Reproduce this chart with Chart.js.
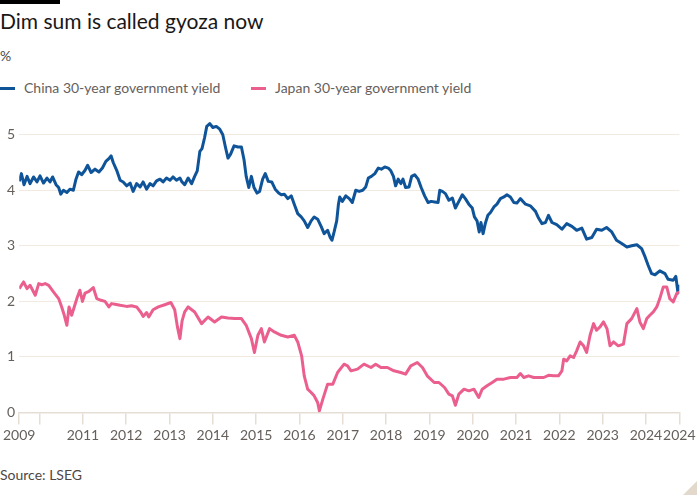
<!DOCTYPE html>
<html>
<head>
<meta charset="utf-8">
<script src="https://cdn.jsdelivr.net/npm/chart.js@4"></script>
<style>
  body { margin: 0; background: #fff; font-family: Lato, "Noto Sans", sans-serif; }
  #wrap { position: relative; width: 700px; height: 500px; overflow: hidden; }
  .bar { position: absolute; left: 0; top: 0; width: 60px; height: 4px; background: #000; }
  .title { position: absolute; left: 0; top: 8px; font-size: 21px; color: #1a1817; white-space: nowrap; }
  .unit { position: absolute; left: 0; top: 47px; font-size: 14px; color: #4d4845; }
  .legend { position: absolute; top: 79px; font-size: 14px; color: #66605c; white-space: nowrap; }
  .legend span.sw { display: inline-block; width: 15px; height: 3px; vertical-align: middle; margin-right: 9px; position: relative; top: -1px; }
  .source { position: absolute; left: 0; top: 466px; font-size: 14px; color: #4d4845; }
  .corner { position: absolute; right: 3px; bottom: 5px; width: 0; height: 0; border-left: 14px solid transparent; border-bottom: 14px solid #e3d8cc; }
  canvas { position: absolute; left: 0; top: 100px; }
</style>
</head>
<body>
<div id="wrap">
  <div class="bar"></div>
  <div class="title">Dim sum is called gyoza now</div>
  <div class="unit">%</div>
  <div class="legend" style="left:0"><span class="sw" style="background:#0f5499"></span>China 30-year government yield</div>
  <div class="legend" style="left:251px"><span class="sw" style="background:#eb5f8f"></span>Japan 30-year government yield</div>
  <canvas id="myChart" width="700" height="350"></canvas>
  <div class="source">Source: LSEG</div>
  <div class="corner"></div>
</div>
<script>
// dates as decimal years
var chinaDates = [2009.53, 2009.58, 2009.64, 2009.71, 2009.78, 2009.86, 2009.94, 2010.01, 2010.09, 2010.17,
  2010.24, 2010.30, 2010.38, 2010.44, 2010.49, 2010.55, 2010.63, 2010.70, 2010.78, 2010.84,
  2010.90, 2010.97, 2011.05, 2011.11, 2011.19, 2011.28, 2011.37, 2011.45, 2011.53, 2011.60,
  2011.65, 2011.70, 2011.78, 2011.86, 2011.93, 2012.01, 2012.09, 2012.16, 2012.24, 2012.32,
  2012.39, 2012.47, 2012.55, 2012.62, 2012.70, 2012.78, 2012.85, 2012.93, 2013.01, 2013.08,
  2013.16, 2013.24, 2013.28, 2013.35, 2013.43, 2013.51, 2013.58, 2013.64, 2013.70, 2013.75,
  2013.81, 2013.86, 2013.93, 2014.00, 2014.08, 2014.16, 2014.23, 2014.29, 2014.35, 2014.41,
  2014.49, 2014.58, 2014.66, 2014.72, 2014.77, 2014.83, 2014.89, 2014.95, 2015.02, 2015.08,
  2015.15, 2015.21, 2015.28, 2015.36, 2015.44, 2015.52, 2015.58, 2015.65, 2015.73, 2015.81,
  2015.88, 2015.96, 2016.04, 2016.11, 2016.19, 2016.27, 2016.34, 2016.42, 2016.50, 2016.57,
  2016.65, 2016.71, 2016.75, 2016.80, 2016.86, 2016.90, 2016.93, 2016.99, 2017.07, 2017.15,
  2017.22, 2017.30, 2017.38, 2017.46, 2017.53, 2017.59, 2017.66, 2017.74, 2017.82, 2017.89,
  2017.97, 2018.05, 2018.11, 2018.17, 2018.22, 2018.28, 2018.34, 2018.39, 2018.45, 2018.53,
  2018.59, 2018.66, 2018.74, 2018.81, 2018.89, 2018.97, 2019.04, 2019.12, 2019.20, 2019.24,
  2019.30, 2019.37, 2019.45, 2019.53, 2019.60, 2019.68, 2019.76, 2019.83, 2019.91, 2019.99,
  2020.04, 2020.10, 2020.15, 2020.19, 2020.24, 2020.29, 2020.35, 2020.41, 2020.49, 2020.56,
  2020.64, 2020.72, 2020.79, 2020.87, 2020.95, 2021.02, 2021.10, 2021.22, 2021.33, 2021.45,
  2021.52, 2021.60, 2021.68, 2021.75, 2021.83, 2021.94, 2022.06, 2022.17, 2022.29, 2022.40,
  2022.52, 2022.63, 2022.75, 2022.86, 2022.98, 2023.09, 2023.21, 2023.32, 2023.44, 2023.56,
  2023.67, 2023.79, 2023.90, 2023.98, 2024.05, 2024.13, 2024.21, 2024.32, 2024.44, 2024.51,
  2024.63, 2024.69, 2024.74, 2024.77];
var chinaYield = [4.16, 4.30, 4.10, 4.25, 4.12, 4.24, 4.15, 4.26, 4.13, 4.22,
  4.15, 4.24, 4.10, 4.05, 3.93, 4.00, 3.96, 4.02, 4.00, 4.20,
  4.33, 4.28, 4.36, 4.45, 4.32, 4.38, 4.33, 4.40, 4.52, 4.57,
  4.62, 4.50, 4.36, 4.18, 4.15, 4.08, 4.13, 3.98, 4.12, 4.06,
  4.15, 4.02, 4.12, 4.08, 4.17, 4.20, 4.15, 4.22, 4.18, 4.24,
  4.18, 4.22, 4.16, 4.10, 4.22, 4.12, 4.25, 4.35, 4.70, 4.75,
  4.95, 5.15, 5.20, 5.13, 5.15, 5.10, 5.00, 4.78, 4.58, 4.65,
  4.80, 4.78, 4.78, 4.55, 4.25, 4.05, 4.25, 4.05, 3.95, 3.98,
  4.20, 4.30, 4.16, 4.15, 4.02, 3.95, 3.92, 3.93, 3.85, 3.90,
  3.75, 3.58, 3.52, 3.45, 3.33, 3.45, 3.52, 3.48, 3.35, 3.22,
  3.28, 3.15, 3.10, 3.25, 3.45, 3.75, 3.88, 3.80, 3.90, 3.85,
  3.78, 4.00, 3.98, 4.00, 4.06, 4.22, 4.25, 4.30, 4.40, 4.38,
  4.42, 4.40, 4.35, 4.25, 4.08, 4.20, 4.12, 4.20, 4.05, 4.06,
  4.25, 4.28, 4.20, 4.05, 3.90, 3.78, 3.80, 3.79, 3.78, 4.00,
  3.98, 3.94, 3.82, 3.86, 3.68, 3.80, 3.92, 3.85, 3.75, 3.68,
  3.52, 3.45, 3.25, 3.42, 3.22, 3.40, 3.55, 3.60, 3.70, 3.75,
  3.85, 3.88, 3.92, 3.88, 3.78, 3.77, 3.85, 3.75, 3.72, 3.62,
  3.50, 3.40, 3.42, 3.55, 3.42, 3.38, 3.30, 3.40, 3.35, 3.28,
  3.32, 3.12, 3.15, 3.30, 3.28, 3.33, 3.25, 3.10, 3.04, 2.98,
  3.00, 3.02, 2.95, 2.80, 2.65, 2.50, 2.48, 2.55, 2.50, 2.40,
  2.38, 2.45, 2.15, 2.30];

var japanDates = [2009.53, 2009.63, 2009.71, 2009.78, 2009.90, 2009.98, 2010.05, 2010.13, 2010.21, 2010.32,
  2010.44, 2010.51, 2010.57, 2010.63, 2010.68, 2010.74, 2010.80, 2010.86, 2010.93, 2010.99,
  2011.05, 2011.14, 2011.24, 2011.32, 2011.42, 2011.51, 2011.60, 2011.66, 2011.74, 2011.86,
  2012.01, 2012.12, 2012.24, 2012.34, 2012.39, 2012.47, 2012.52, 2012.62, 2012.74, 2012.89,
  2013.03, 2013.12, 2013.18, 2013.24, 2013.29, 2013.35, 2013.43, 2013.58, 2013.74, 2013.89,
  2014.04, 2014.20, 2014.35, 2014.50, 2014.66, 2014.77, 2014.89, 2014.96, 2015.04, 2015.12,
  2015.19, 2015.31, 2015.42, 2015.58, 2015.73, 2015.88, 2015.96, 2016.05, 2016.11, 2016.19,
  2016.27, 2016.34, 2016.42, 2016.46, 2016.54, 2016.65, 2016.77, 2016.88, 2017.03, 2017.11,
  2017.19, 2017.34, 2017.49, 2017.65, 2017.76, 2017.88, 2018.03, 2018.18, 2018.34, 2018.45,
  2018.57, 2018.72, 2018.84, 2018.95, 2019.11, 2019.22, 2019.35, 2019.45, 2019.53, 2019.60,
  2019.68, 2019.80, 2019.91, 2020.03, 2020.14, 2020.22, 2020.33, 2020.45, 2020.56, 2020.72,
  2020.87, 2021.02, 2021.10, 2021.18, 2021.29, 2021.41, 2021.52, 2021.64, 2021.75, 2021.87,
  2021.98, 2022.06, 2022.10, 2022.17, 2022.25, 2022.33, 2022.40, 2022.48, 2022.56, 2022.63,
  2022.71, 2022.79, 2022.86, 2022.94, 2023.02, 2023.10, 2023.17, 2023.25, 2023.36, 2023.48,
  2023.56, 2023.67, 2023.79, 2023.86, 2023.94, 2024.02, 2024.09, 2024.17, 2024.25, 2024.32,
  2024.40, 2024.48, 2024.55, 2024.63, 2024.71, 2024.77];
var japanYield = [2.23, 2.35, 2.23, 2.29, 2.11, 2.32, 2.30, 2.32, 2.29, 2.17,
  2.05, 1.90, 1.75, 1.57, 1.90, 1.75, 1.90, 2.05, 2.20, 2.00,
  2.15, 2.18, 2.25, 2.05, 2.02, 2.00, 1.90, 1.96, 1.95, 1.93,
  1.91, 1.92, 1.90, 1.80, 1.73, 1.80, 1.72, 1.85, 1.90, 1.94,
  1.98, 1.85, 1.55, 1.33, 1.65, 1.81, 1.90, 1.81, 1.60, 1.72,
  1.63, 1.72, 1.70, 1.69, 1.69, 1.57, 1.33, 1.08, 1.39, 1.51,
  1.27, 1.51, 1.45, 1.39, 1.36, 1.39, 1.27, 1.02, 0.66, 0.42,
  0.36, 0.30, 0.18, 0.03, 0.24, 0.51, 0.51, 0.72, 0.87, 0.84,
  0.75, 0.78, 0.87, 0.81, 0.87, 0.81, 0.81, 0.75, 0.72, 0.69,
  0.84, 0.90, 0.81, 0.66, 0.54, 0.54, 0.45, 0.33, 0.30, 0.13,
  0.33, 0.42, 0.39, 0.42, 0.27, 0.42, 0.48, 0.54, 0.60, 0.60,
  0.63, 0.63, 0.70, 0.63, 0.66, 0.63, 0.63, 0.63, 0.67, 0.66,
  0.66, 0.75, 0.96, 0.93, 1.02, 0.99, 1.11, 1.27, 1.20, 1.08,
  1.39, 1.60, 1.48, 1.54, 1.63, 1.51, 1.20, 1.27, 1.20, 1.23,
  1.60, 1.69, 1.87, 1.63, 1.51, 1.69, 1.75, 1.81, 1.90, 2.05,
  2.26, 2.26, 2.05, 1.99, 2.14, 2.17];

// axis ticks
var xMin = 2009.53, xMax = 2024.77;
var xTickValues = [xMin, 2010, 2011, 2012, 2013, 2014, 2015, 2016, 2017, 2018, 2019, 2020, 2021, 2022, 2023, 2024, xMax];
var xTickLabels = ['2009', '', '2011', '2012', '2013', '2014', '2015', '2016', '2017', '2018', '2019', '2020', '2021', '2022', '2023', '2024', '2024'];
var yTickValues = [0, 1, 2, 3, 4, 5];

function toPoints(xs, ys) {
  var pts = [];
  for (var i = 0; i < xs.length; i++) {
    pts.push({ x: xs[i], y: ys[i] });
  }
  return pts;
}

const ctx = document.getElementById('myChart');
const myChart = new Chart(ctx, {
  type: 'line',
  data: {
    datasets: [{
      label: 'Japan 30-year government yield',
      data: toPoints(japanDates, japanYield),
      borderColor: '#eb5f8f',
      borderWidth: 3,
      borderJoinStyle: 'round',
      pointRadius: 0
    }, {
      label: 'China 30-year government yield',
      data: toPoints(chinaDates, chinaYield),
      borderColor: '#0f5499',
      borderWidth: 3,
      borderJoinStyle: 'round',
      pointRadius: 0
    }]
  },
  options: {
    responsive: false,
    animation: false,
    devicePixelRatio: 1,
    layout: { padding: { top: 12.5, right: 20.7, left: 0, bottom: 0 } },
    plugins: {
      legend: { display: false },
      tooltip: { enabled: false }
    },
    scales: {
      x: {
        type: 'linear',
        min: xMin,
        max: xMax,
        afterBuildTicks: function (scale) {
          scale.ticks = xTickValues.map(function (v) { return { value: v }; });
        },
        afterFit: function (scale) { scale.height = 37.5; },
        ticks: {
          autoSkip: false,
          maxRotation: 0,
          padding: 3,
          color: '#66605c',
          font: { family: 'Lato', size: 14 },
          callback: function (value, index) { return xTickLabels[index]; }
        },
        grid: {
          drawOnChartArea: false,
          drawTicks: true,
          tickLength: 12,
          color: '#e6ddd5',
          lineWidth: 1.5
        },
        border: { color: '#e6ddd5', width: 1.5 }
      },
      y: {
        min: 0,
        max: 5.4,
        afterBuildTicks: function (scale) {
          scale.ticks = yTickValues.map(function (v) { return { value: v }; });
        },
        afterFit: function (scale) { scale.width = 17.3; },
        ticks: {
          padding: 4,
          color: '#66605c',
          font: { family: 'Lato', size: 14 },
          callback: function (value) { return String(value); }
        },
        grid: {
          drawTicks: false,
          color: '#f2e9e1',
          lineWidth: 1
        },
        border: { display: false }
      }
    }
  }
});
</script>
</body>
</html>
